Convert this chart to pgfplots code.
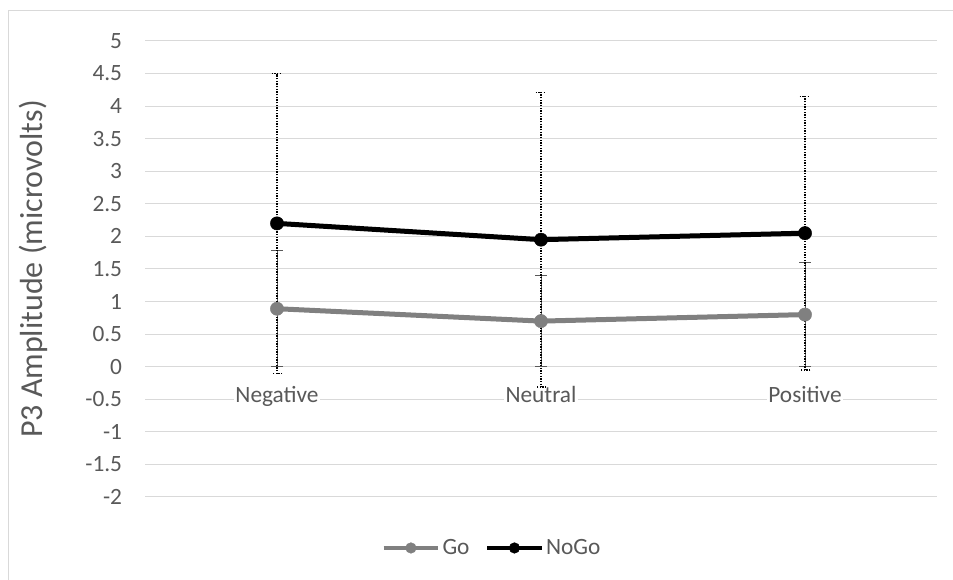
\documentclass[border=0pt]{standalone}
\usepackage{pgfplots}
\pgfplotsset{compat=1.18}
\usepackage{pgfplotstable}
\usepackage{fontspec}
\setmainfont{Carlito}
\definecolor{gridgray}{HTML}{D9D9D9}
\definecolor{txtgray}{HTML}{595959}
\definecolor{gogray}{HTML}{808080}
\pgfplotstableread{
x y err
0 0.89 0.89
1 0.70 0.70
2 0.80 0.80
}\godata
\pgfplotstableread{
x y err
0 2.20 2.30
1 1.95 2.26
2 2.05 2.10
}\nogodata
\begin{document}
\begin{tikzpicture}
\path[use as bounding box] (0,0) rectangle (714.75pt,435pt);
\draw[gridgray, line width=0.75pt] (6pt,0) -- (6pt,426.75pt) -- (714.75pt,426.75pt);
\begin{axis}[
  at={(108.75pt,62.25pt)}, anchor=south west,
  scale only axis, width=594pt, height=342pt,
  xmin=-0.5, xmax=2.5, ymin=-2, ymax=5,
  axis line style={draw=none},
  xtick={0,1,2}, xticklabels={Negative,Neutral,Positive},
  ytick={-2,-1.5,...,5},
  yticklabels={-2,-1.5,-1,-0.5,0,0.5,1,1.5,2,2.5,3,3.5,4,4.5,5},
  major tick length=0,
  ymajorgrids, grid style={gridgray, line width=0.75pt},
  tick label style={font=\fontsize{17.5}{20}\selectfont, text=txtgray},
  yticklabel style={anchor=east, inner sep=0pt, xshift=-17pt},
  xticklabel style={anchor=base, yshift=70.5pt, fill=white, inner sep=1pt},
  ylabel={P3 Amplitude (microvolts)},
  ylabel style={at={(axis description cs:-0.1414,0.5)}, anchor=center, font=\fontsize{24}{28}\selectfont, text=txtgray},
  legend columns=2,
  legend style={draw=none, at={(axis description cs:0.438,-0.1118)}, anchor=center,
    font=\fontsize{17.5}{20}\selectfont, text=txtgray, inner sep=0pt,
    /tikz/every even column/.append style={column sep=10pt},
    nodes={inner sep=1.5pt}},
  legend image code/.code={\draw[line width=3.4pt, mark size=4pt, mark repeat=2,mark phase=2] plot coordinates {(0cm,0cm)(0.72cm,0cm)(1.44cm,0cm)};},
  clip=false,
]
\addplot[gogray, line width=3.75pt, mark=*, mark size=5pt, mark options={solid, line width=0.3pt},
  error bars/.cd, y dir=both, y explicit,
  error bar style={txtgray, line width=0.75pt, solid},
  error mark options={rotate=90, mark size=4.5pt, txtgray, line width=0.75pt}]
  table[x=x, y=y, y error=err] {\godata};
\addlegendentry{Go}
\addplot[black, line width=3.75pt, mark=*, mark size=5pt, mark options={solid, line width=0.3pt},
  error bars/.cd, y dir=both, y explicit,
  error bar style={black, line width=1pt, dash pattern=on 1pt off 1pt},
  error mark options={rotate=90, mark size=4pt, black, line width=1pt, dash pattern=on 1pt off 1pt}]
  table[x=x, y=y, y error=err] {\nogodata};
\addlegendentry{NoGo}
\end{axis}
\end{tikzpicture}
\end{document}
